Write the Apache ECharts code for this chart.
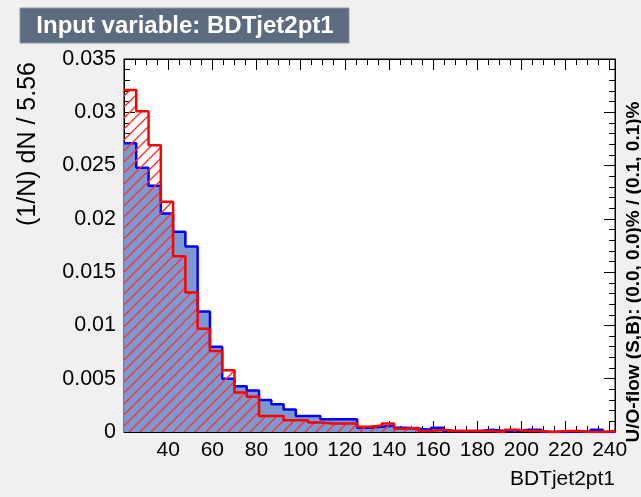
<!DOCTYPE html>
<html>
<head>
<meta charset="utf-8">
<script src="https://cdn.jsdelivr.net/npm/echarts@6/dist/echarts.min.js"></script>
<style>
html,body{margin:0;padding:0;background:#f0f0f0;}
#chart{width:641px;height:497px;}
</style>
</head>
<body>
<div id="chart"></div>
<script>
// Binning
const binLow = 20;
const binWidth = 5.56;
const nBins = 40;
// Signal (blue, filled)
const signalValues = [0.0271,0.0248,0.0231,0.0205,0.0188,0.0174,0.0113,0.0080,0.0050,0.0043,
                      0.0039,0.0030,0.0026,0.0021,0.0015,0.0015,0.0012,0.0012,0.0012,0.0004,
                      0.0005,0.0006,0.0004,0.0003,0.0002,0.0004,0.0001,0.0001,0.0001,0.0002,
                      0.0001,0.0001,0.0002,0.0002,0.0000,0.0000,0.0001,0.0000,0.0002,0.0000];
// Background (red, hatched)
const backgroundValues = [0.0321,0.0301,0.0269,0.0216,0.0165,0.0131,0.0097,0.0076,0.0058,0.0037,
                          0.0033,0.0015,0.0015,0.0011,0.0011,0.0009,0.0008,0.0008,0.0008,0.0005,
                          0.0006,0.0008,0.0003,0.0004,0.0001,0.0002,0.0001,0.0001,0.0001,0.0001,
                          0.0000,0.0002,0.0001,0.0001,0.0000,0.0001,0.0001,0.0000,0.0000,0.0001];
const xTickLabels = [40,60,80,100,120,140,160,180,200,220,240];
const yTickLabels = [0,0.005,0.01,0.015,0.02,0.025,0.03,0.035];

const titleText = 'Input variable: BDTjet2pt1';
const xTitle = 'BDTjet2pt1';
const yTitle = '(1/N) dN / 5.56';
const flowText = 'U/O-flow (S,B): (0.0, 0.0)% / (0.1, 0.1)%';

function stepPoints(vals){
  const pts = vals.map((v,i)=>[binLow + i*binWidth, v]);
  pts.push([binLow + vals.length*binWidth, vals[vals.length-1]]);
  return pts;
}
function binRects(vals){
  return vals.map((v,i)=>[binLow + i*binWidth, binLow + (i+1)*binWidth, v]);
}

const font = "'Liberation Sans', Arial, Helvetica, sans-serif";
const xMax = binLow + nBins*binWidth;
const hatchSpacing = 11;

function hatchRenderItem(params, api){
  const p0 = api.coord([api.value(0), api.value(2)]);
  const p1 = api.coord([api.value(1), 0]);
  const x0 = Math.min(p0[0], p1[0]), x1 = Math.max(p0[0], p1[0]);
  const y0 = Math.min(p0[1], p1[1]), y1 = Math.max(p0[1], p1[1]);
  const children = [];
  if (y1 - y0 < 0.5) return {type:'group', children:children};
  const s = hatchSpacing;
  for (let c = Math.ceil((x0 + y0) / s) * s; c <= x1 + y1; c += s){
    const xa = Math.max(x0, c - y1);
    const xb = Math.min(x1, c - y0);
    if (xb > xa){
      children.push({type:'line', shape:{x1:xa, y1:c - xa, x2:xb, y2:c - xb},
        style:{stroke:'#ff3030', lineWidth:1.4}, silent:true});
    }
  }
  return {type:'group', children:children};
}

function xAxisDef(pos, showLabels){
  return {
    type:'value', min:binLow, max:xMax, interval:20, position:pos, gridIndex:0,
    axisLine:{show:true, onZero:false, lineStyle:{color:'#000', width:1}},
    axisTick:{show:true, inside:true, length:11, lineStyle:{color:'#000', width:1}},
    minorTick:{show:true, splitNumber:4, length:6, lineStyle:{color:'#000', width:1}},
    splitLine:{show:false},
    axisLabel:{show:showLabels, margin:8, fontSize:21, color:'#000', fontFamily:font,
      formatter:function(v){ return xTickLabels.indexOf(Math.round(v*1000)/1000) >= 0 ? String(v) : ''; }}
  };
}
function yAxisDef(pos, showLabels){
  return {
    type:'value', min:0, max:0.035, interval:0.005, position:pos, gridIndex:0,
    axisLine:{show:true, onZero:false, lineStyle:{color:'#000', width:1}},
    axisTick:{show:true, inside:true, length:11, lineStyle:{color:'#000', width:1}},
    minorTick:{show:true, splitNumber:5, length:6, lineStyle:{color:'#000', width:1}},
    splitLine:{show:false},
    axisLabel:{show:showLabels, margin:8, fontSize:21.5, color:'#000', fontFamily:font,
      formatter:function(v){
        const r = Math.round(v*1000)/1000;
        return yTickLabels.indexOf(r) >= 0 ? String(r) : '';
      }}
  };
}

const chart = echarts.init(document.getElementById('chart'), null, {renderer:'canvas'});
chart.setOption({
  animation:false,
  backgroundColor:'#f0f0f0',
  grid:{left:124, top:59, width:491, height:373, show:true, backgroundColor:'#fff', borderColor:'#000', borderWidth:1},
  xAxis:[xAxisDef('bottom', true), xAxisDef('top', false)],
  yAxis:[yAxisDef('left', true), yAxisDef('right', false)],
  series:[
    {
      name:'Signal', type:'line', step:'end', xAxisIndex:0, yAxisIndex:0,
      data:stepPoints(signalValues), symbol:'none', showSymbol:false,
      lineStyle:{color:'#0000ff', width:2.5},
      areaStyle:{color:'#7d99d1', opacity:1, origin:'start'},
      z:2
    },
    {
      name:'BackgroundHatch', type:'custom', xAxisIndex:0, yAxisIndex:0,
      data:binRects(backgroundValues), renderItem:hatchRenderItem,
      encode:{x:[0,1], y:2}, clip:true, silent:true, z:3
    },
    {
      name:'Background', type:'line', step:'end', xAxisIndex:0, yAxisIndex:0,
      data:stepPoints(backgroundValues), symbol:'none', showSymbol:false,
      lineStyle:{color:'#ff0000', width:2.5},
      z:4
    }
  ],
  graphic:[
    {type:'rect', shape:{x:20, y:8, width:329, height:35}, style:{fill:'#5c6b80', stroke:'#8d99aa', lineWidth:1}, z:10},
    {type:'text', x:185, y:26, style:{text:titleText, fill:'#fff', font:'bold 24px ' + font, align:'center', verticalAlign:'middle'}, z:11},
    {type:'text', x:28, y:62, rotation:Math.PI/2, style:{text:yTitle, fill:'#000', font:'25px ' + font, align:'right', verticalAlign:'middle'}, z:11},
    {type:'text', x:615, y:479, style:{text:xTitle, fill:'#000', font:'21px ' + font, align:'right', verticalAlign:'middle'}, z:11},
    {type:'text', x:634, y:272, rotation:Math.PI/2, style:{text:flowText, fill:'#000', font:'bold 19px ' + font, align:'center', verticalAlign:'middle'}, z:11}
  ]
});
</script>
</body>
</html>
